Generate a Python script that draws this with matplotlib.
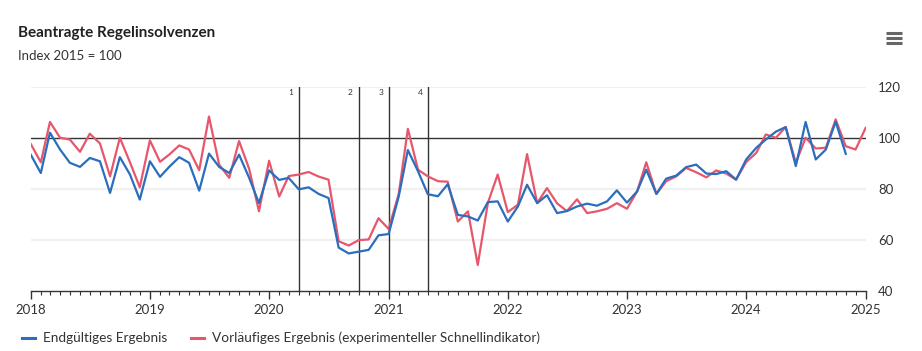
import matplotlib
matplotlib.use("Agg")
import matplotlib.pyplot as plt
import matplotlib.dates as mdates
import pandas as pd
from matplotlib.lines import Line2D

plt.rcParams["font.family"] = ["Lato", "DejaVu Sans"]

# Monthly index values (2015 = 100)
final_result = [
    93.4, 86.2, 102.0, 95.4, 90.2, 88.6, 92.1, 90.8, 78.4, 92.4, 85.6, 75.8,
    90.8, 84.7, 88.6, 92.4, 90.2, 79.3, 93.8, 88.6, 86.2, 93.4, 84.3, 74.4,
    87.2, 83.5, 84.3, 79.8, 80.6, 78.0, 76.4, 57.0, 54.7, 55.4, 56.1, 61.8,
    62.3, 77.0, 95.2, 86.9, 77.9, 77.1, 81.8, 69.8, 69.2, 67.6, 74.8, 75.1,
    67.2, 73.1, 81.6, 74.4, 77.5, 70.5, 71.3, 73.1, 74.2, 73.4, 75.1, 79.4,
    74.6, 79.0, 87.5, 78.0, 84.0, 85.2, 88.5, 89.5, 86.0, 85.8, 86.9, 83.6,
    91.5, 96.1, 99.3, 102.4, 104.2, 88.9, 106.2, 91.5, 95.4, 106.3, 93.7,
]
preliminary_result = [
    97.6, 90.4, 106.2, 100.0, 99.3, 94.5, 101.6, 97.8, 84.9, 100.0, 90.4, 80.6,
    99.0, 90.6, 93.4, 97.0, 95.4, 87.3, 108.3, 89.5, 84.3, 98.7, 87.8, 71.2,
    91.0, 77.0, 85.0, 85.6, 86.6, 84.8, 83.6, 59.5, 57.8, 59.9, 60.2, 68.5,
    64.3, 78.0, 103.5, 87.5, 84.9, 83.0, 82.8, 67.2, 71.2, 50.2, 74.5, 85.6,
    70.9, 73.8, 93.6, 74.4, 80.3, 74.3, 71.3, 75.9, 70.5, 71.2, 72.2, 74.4,
    72.2, 79.0, 90.4, 78.0, 83.0, 84.9, 88.2, 86.5, 84.5, 87.2, 86.0, 83.6,
    90.5, 94.1, 101.3, 100.0, 104.2, 90.2, 100.0, 95.8, 96.1, 107.2, 96.7, 95.4,
    103.9,
]
final_dates = pd.date_range("2018-01-01", periods=len(final_result), freq="MS")
prelim_dates = pd.date_range("2018-01-01", periods=len(preliminary_result), freq="MS")

# markers for changes to the insolvency filing obligation
event_dates = pd.to_datetime(["2020-04-01", "2020-10-01", "2021-01-01", "2021-05-01"])
event_labels = ["1", "2", "3", "4"]

year_ticks = pd.date_range("2018-01-01", "2025-01-01", freq="YS")
y_ticks = [40, 60, 80, 100, 120]

blue = "#2a6ebd"
red = "#e8566c"
dark = "#333333"

fig = plt.figure(figsize=(9.22, 3.51), dpi=100)
ax = fig.add_axes([30.7 / 922, 1 - 291 / 351, (865.7 - 30.7) / 922, (291 - 86.7) / 351])

ax.set_xlim(year_ticks[0], year_ticks[-1])
ax.set_ylim(40, 120)

for v in [60, 80, 120]:
    ax.axhline(v, color="#f0f0f0", lw=1.6, zorder=1)
ax.axhline(100, color=dark, lw=1.0, zorder=2)

for d, lab in zip(event_dates, event_labels):
    ax.axvline(d, color=dark, lw=1.0, zorder=2)
    ax.annotate(lab, (mdates.date2num(d), 120), xytext=(-4, -2), textcoords="offset points",
                ha="right", va="top", fontsize=6, color=dark)

ax.plot(prelim_dates, preliminary_result, color=red, lw=1.6, zorder=3)
ax.plot(final_dates, final_result, color=blue, lw=1.6, zorder=4)

for s in ["top", "right", "left"]:
    ax.spines[s].set_visible(False)
ax.spines["bottom"].set_color(dark)
ax.spines["bottom"].set_linewidth(1.0)

ax.set_xticks(year_ticks)
ax.set_xticklabels([str(d.year) for d in year_ticks], fontsize=9.5, color=dark)
ax.xaxis.set_minor_locator(mdates.MonthLocator())
ax.tick_params(axis="x", which="major", length=6, width=1, color=dark, pad=3)
ax.tick_params(axis="x", which="minor", length=3, width=0.8, color=dark)

ax.yaxis.tick_right()
ax.set_yticks(y_ticks)
ax.set_yticklabels([str(v) for v in y_ticks], fontsize=9.5, color=dark)
ax.tick_params(axis="y", length=0, pad=9)

fig.text(18 / 922, 1 - 33 / 351, "Beantragte Regelinsolvenzen", fontsize=11,
         fontweight="bold", color="#222222", va="center")
fig.text(18 / 922, 1 - 56 / 351, "Index 2015 = 100", fontsize=9.5, color=dark, va="center")

# menu icon
for yy in [33, 38, 43]:
    fig.add_artist(Line2D([886 / 922, 902 / 922], [1 - yy / 351, 1 - yy / 351],
                          color="#666666", lw=2.2, solid_capstyle="butt"))

handles = [Line2D([], [], color=blue, lw=2.2), Line2D([], [], color=red, lw=2.2)]
fig.legend(handles, ["Endgültiges Ergebnis", "Vorläufiges Ergebnis (experimenteller Schnellindikator)"],
           loc="center left", bbox_to_anchor=(10 / 922, 1 - 338 / 351), ncol=2, frameon=False,
           fontsize=9.8, handlelength=0.9, handletextpad=0.6, columnspacing=1.8,
           labelcolor=dark)

fig.savefig("out.png", dpi=100, facecolor="white")
